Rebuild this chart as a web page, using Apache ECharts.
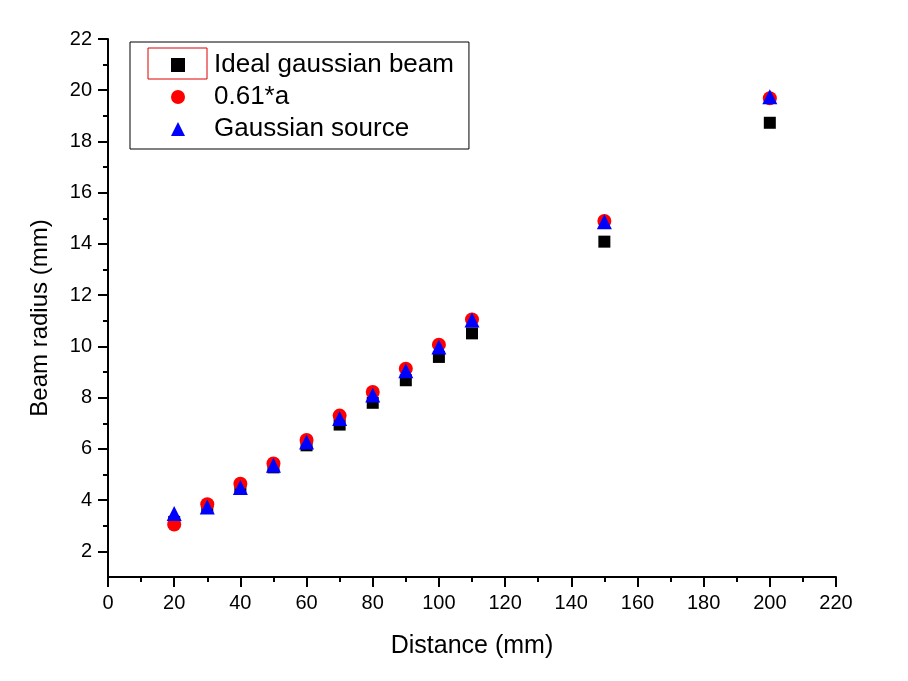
<!DOCTYPE html>
<html>
<head>
<meta charset="utf-8">
<script src="https://cdn.jsdelivr.net/npm/echarts@6/dist/echarts.min.js"></script>
<style>
  html, body { margin: 0; padding: 0; background: #fff; }
  #ec { width: 908px; height: 681px; }
</style>
</head>
<body>
<div id="ec"></div>
<script>
// distances (mm)
var distance = [20, 30, 40, 50, 60, 70, 80, 90, 100, 110, 150, 200];
// beam radius (mm) per series
var idealGaussian = [3.15, 3.72, 4.5, 5.28, 6.14, 6.95, 7.8, 8.68, 9.59, 10.51, 14.09, 18.73];
var scaled061a   = [3.05, 3.84, 4.64, 5.43, 6.35, 7.3, 8.22, 9.13, 10.07, 11.05, 14.9, 19.69];
var gaussSource  = [3.48, 3.73, 4.49, 5.36, 6.27, 7.19, 8.1, 9.05, 9.98, 11.03, 14.87, 19.75];

var yMajor = [2, 4, 6, 8, 10, 12, 14, 16, 18, 20, 22];
var yMinor = [3, 5, 7, 9, 11, 13, 15, 17, 19, 21];

function pairs(ys) {
    return distance.map(function (d, i) { return [d, ys[i]]; });
}

var font = '"Liberation Sans", Arial, sans-serif';

var myChart = echarts.init(document.getElementById('ec'));

var axisLine = { lineStyle: { color: '#000', width: 2 } };

var option = {
    animation: false,
    backgroundColor: '#fff',
    textStyle: { fontFamily: font, color: '#000' },
    grid: { left: 108, right: 72, top: 39, bottom: 104 },
    legend: {
        orient: 'vertical',
        left: 130,
        top: 42,
        padding: [10, 15, 7, 41],
        itemGap: 6,
        itemWidth: 14,
        itemHeight: 14,
        borderColor: '#000',
        borderWidth: 1,
        textStyle: { fontSize: 26, color: '#000', fontFamily: font, padding: [0, 0, 0, 24] },
        data: ['Ideal gaussian beam', '0.61*a', 'Gaussian source']
    },
    graphic: [{
        type: 'rect',
        shape: { x: 148, y: 48, width: 59, height: 31 },
        style: { fill: 'none', stroke: '#e00000', lineWidth: 1 },
        z: 100
    }],
    xAxis: {
        type: 'value',
        min: 0,
        max: 220,
        interval: 20,
        name: 'Distance (mm)',
        nameLocation: 'middle',
        nameGap: 57,
        nameTextStyle: { fontSize: 25, color: '#000', fontFamily: font },
        axisLine: axisLine,
        axisTick: { show: true, length: 10, lineStyle: { color: '#000', width: 2 } },
        minorTick: { show: true, splitNumber: 2, length: 5, lineStyle: { color: '#000', width: 2 } },
        axisLabel: { fontSize: 20, color: '#000', margin: 16, fontFamily: font },
        splitLine: { show: false }
    },
    yAxis: [{
        type: 'value',
        min: 1,
        max: 22,
        name: 'Beam radius (mm)',
        nameLocation: 'middle',
        nameGap: 56,
        nameTextStyle: { fontSize: 24, color: '#000', fontFamily: font, padding: [0, 20, 0, 0] },
        axisLine: axisLine,
        axisTick: { show: true, length: 10, customValues: yMajor, lineStyle: { color: '#000', width: 2 } },
        axisLabel: { fontSize: 20, color: '#000', margin: 16, fontFamily: font, customValues: yMajor },
        splitLine: { show: false }
    }, {
        type: 'value',
        min: 1,
        max: 22,
        position: 'left',
        axisLine: { show: false },
        axisTick: { show: true, length: 5, customValues: yMinor, lineStyle: { color: '#000', width: 2 } },
        axisLabel: { show: false },
        splitLine: { show: false }
    }],
    series: [{
        name: 'Ideal gaussian beam',
        type: 'scatter',
        symbol: 'rect',
        symbolSize: 12,
        itemStyle: { color: '#000', opacity: 1 },
        data: pairs(idealGaussian),
        z: 2
    }, {
        name: '0.61*a',
        type: 'scatter',
        symbol: 'circle',
        symbolSize: 14,
        itemStyle: { color: '#ff0000', opacity: 1 },
        data: pairs(scaled061a),
        z: 3
    }, {
        name: 'Gaussian source',
        type: 'scatter',
        symbol: 'triangle',
        symbolSize: 15,
        itemStyle: { color: '#0000ff', opacity: 1 },
        data: pairs(gaussSource),
        z: 4
    }]
};

myChart.setOption(option);
</script>
</body>
</html>
